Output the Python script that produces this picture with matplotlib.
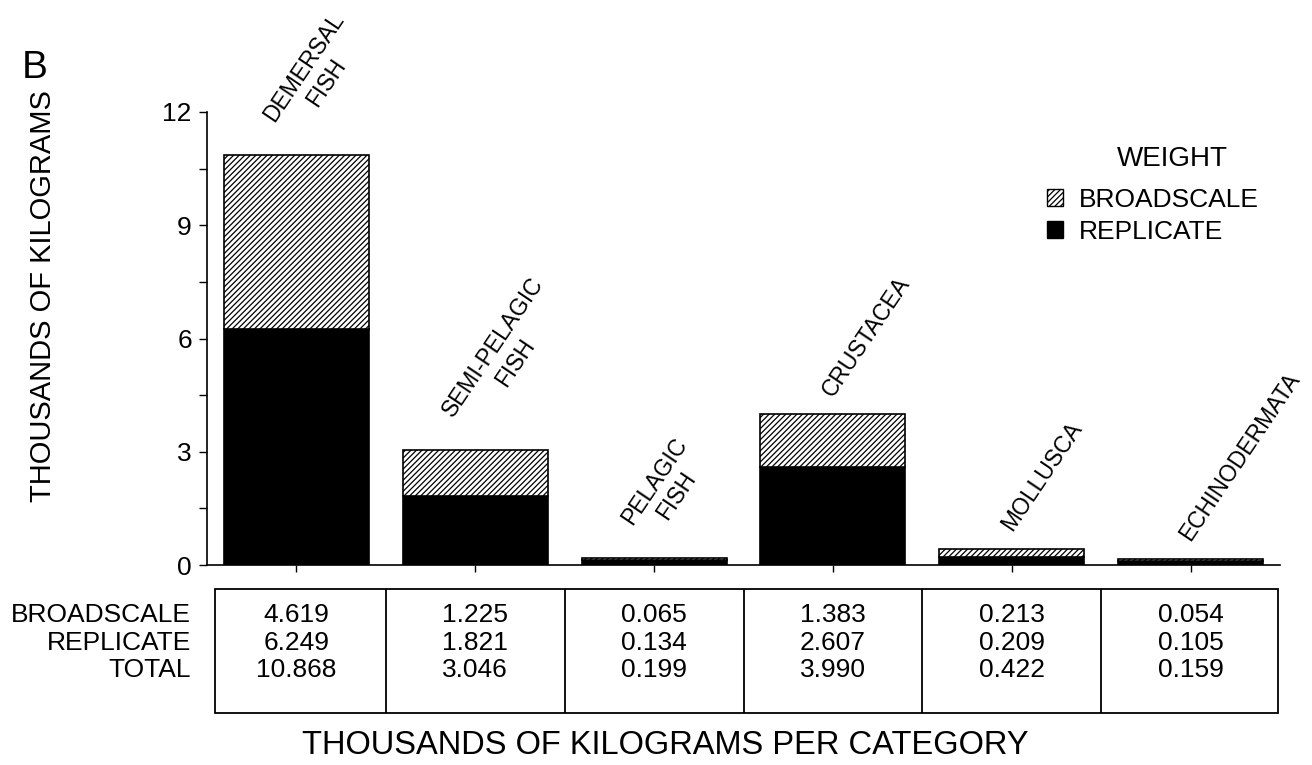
import matplotlib.pyplot as plt
from matplotlib.patches import Patch, Rectangle

plt.rcParams['font.family'] = ['Liberation Sans', 'DejaVu Sans']
plt.rcParams['hatch.linewidth'] = 0.9

categories = ['DEMERSAL\nFISH', 'SEMI-PELAGIC\nFISH', 'PELAGIC\nFISH',
              'CRUSTACEA', 'MOLLUSCA', 'ECHINODERMATA']
broadscale = [4.619, 1.225, 0.065, 1.383, 0.213, 0.054]
replicate = [6.249, 1.821, 0.134, 2.607, 0.209, 0.105]
total = [10.868, 3.046, 0.199, 3.990, 0.422, 0.159]
row_names = ['BROADSCALE', 'REPLICATE', 'TOTAL']
yticks = [0, 3, 6, 9, 12]

fig = plt.figure(figsize=(13.12, 7.65), dpi=100)
ax = fig.add_axes([0.1578, 0.2614, 0.8178, 0.5922])

x = list(range(len(categories)))
ax.bar(x, replicate, width=0.81, color='black', edgecolor='black', linewidth=1.2)
ax.bar(x, broadscale, width=0.81, bottom=replicate, color='white',
       edgecolor='black', hatch='//////', linewidth=1.2)

ax.set_xlim(-0.5, 5.5)
ax.set_ylim(0, 12)
ax.set_yticks(yticks)
ax.set_yticks([1.5, 4.5, 7.5, 10.5], minor=True)
ax.set_xticks(x)
ax.set_xticklabels([])
ax.tick_params(axis='y', which='both', direction='out', length=6, width=1,
               labelsize=19, pad=5)
ax.tick_params(axis='x', direction='out', length=5, width=1)
for s in ['top', 'right']:
    ax.spines[s].set_visible(False)
for s in ['left', 'bottom']:
    ax.spines[s].set_linewidth(1.2)

# category labels above the bars
for i, name in enumerate(categories):
    ax.annotate(name, xy=(i, total[i]), xytext=(3, 10), textcoords='offset points',
                rotation=56, rotation_mode='anchor', ha='left', va='bottom',
                multialignment='center', fontsize=16.5, annotation_clip=False)

# table under the chart
tab = fig.add_axes([0.1578, 0.068, 0.8178, 0.162])
tab.set_xlim(-0.5, 5.5)
tab.set_ylim(0, 1)
tab.axis('off')
tab.add_patch(Rectangle((-0.455, 0), 5.945, 1, fill=False, lw=1.3, clip_on=False))
for i in range(1, len(categories)):
    tab.plot([i - 0.5, i - 0.5], [0, 1], color='black', lw=1.3)
rows = [broadscale, replicate, total]
ypos = [0.79, 0.565, 0.345]
for r, vals in enumerate(rows):
    tab.text(-0.59, ypos[r], row_names[r], ha='right', va='center', fontsize=19,
             clip_on=False)
    for i, v in enumerate(vals):
        tab.text(i, ypos[r], f'{v:.3f}', ha='center', va='center', fontsize=19)

fig.text(665 / 1312, 1 - 745 / 765, 'THOUSANDS OF KILOGRAMS PER CATEGORY',
         ha='center', va='center', fontsize=23.5)
fig.text(43 / 1312, 1 - 296 / 765, 'THOUSANDS OF KILOGRAMS', rotation=90,
         ha='center', va='center', fontsize=21)
fig.text(22 / 1312, 1 - 78 / 765, 'B', ha='left', va='baseline', fontsize=28)

fig.text(1172 / 1312, 1 - 166 / 765, 'WEIGHT', ha='center', va='baseline',
         fontsize=20)
handles = [Patch(facecolor='white', edgecolor='black', hatch='//////'),
           Patch(facecolor='black', edgecolor='black')]
leg = fig.legend(handles, ['BROADSCALE', 'REPLICATE'],
                 loc='upper left', bbox_to_anchor=(1047 / 1312, 1 - 188 / 765),
                 frameon=False, fontsize=19,
                 handlelength=0.6, handleheight=0.6, handletextpad=0.6,
                 labelspacing=0.3, borderaxespad=0, borderpad=0)

fig.savefig('out.png', dpi=100)
